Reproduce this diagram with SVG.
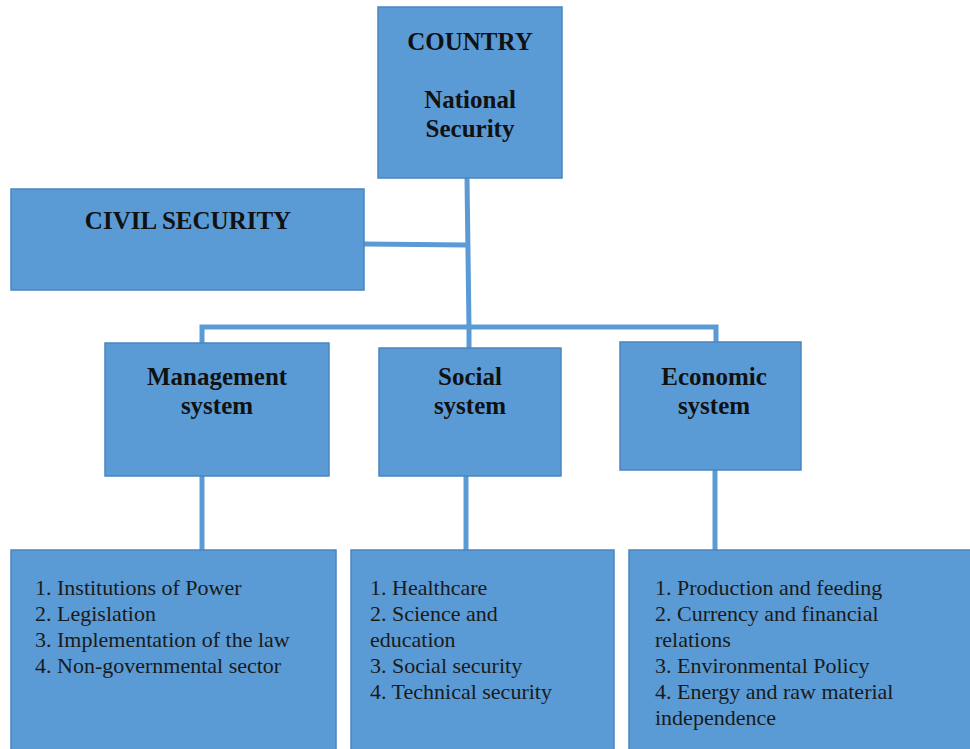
<svg xmlns="http://www.w3.org/2000/svg" width="970" height="749" viewBox="0 0 970 749">
<style>
.box{fill:#5b9bd5;stroke:#4a86bf;stroke-width:1.5}
.conn{stroke:#5b9bd5;stroke-width:5;fill:none}
.t{font-family:"Liberation Serif","Times New Roman",serif;font-weight:bold;font-size:25px;fill:#111;text-anchor:middle}
.l{font-family:"Liberation Serif","Times New Roman",serif;font-size:22px;fill:#1a1a1a}
</style>
<rect width="970" height="749" fill="#fff"/>
<g id="connectors">
<polyline class="conn" points="467,178 469,327"/>
<line class="conn" x1="364" y1="244" x2="468" y2="245"/>
<polyline class="conn" points="202,344 202,327 716,327 716,342"/>
<line class="conn" x1="469" y1="327" x2="469" y2="348"/>
<line class="conn" x1="202" y1="476" x2="202" y2="550"/>
<line class="conn" x1="466" y1="476" x2="466" y2="550"/>
<line class="conn" x1="715" y1="470" x2="715" y2="550"/>
</g>
<g id="country">
<rect class="box" x="378" y="7" width="184" height="171"/>
<text class="t" x="470" y="50">COUNTRY</text>
<text class="t" x="470" y="108">National</text>
<text class="t" x="470" y="137">Security</text>
</g>
<g id="civil">
<rect class="box" x="11" y="189" width="353" height="101"/>
<text class="t" x="188" y="229">CIVIL SECURITY</text>
</g>
<g id="management">
<rect class="box" x="105" y="343" width="224" height="133"/>
<text class="t" x="217" y="385">Management</text>
<text class="t" x="217" y="414">system</text>
</g>
<g id="social">
<rect class="box" x="379" y="348" width="182" height="128"/>
<text class="t" x="470" y="385">Social</text>
<text class="t" x="470" y="414">system</text>
</g>
<g id="economic">
<rect class="box" x="620" y="342" width="181" height="128"/>
<text class="t" x="714" y="385">Economic</text>
<text class="t" x="714" y="414">system</text>
</g>
<g id="management-list">
<rect class="box" x="11" y="550" width="325" height="210"/>
<text class="l" x="35" y="595">1. Institutions of Power</text>
<text class="l" x="35" y="621">2. Legislation</text>
<text class="l" x="35" y="647">3. Implementation of the law</text>
<text class="l" x="35" y="673">4. Non-governmental sector</text>
</g>
<g id="social-list">
<rect class="box" x="351" y="550" width="263" height="210"/>
<text class="l" x="370" y="595">1. Healthcare</text>
<text class="l" x="370" y="621">2. Science and</text>
<text class="l" x="370" y="647">education</text>
<text class="l" x="370" y="673">3. Social security</text>
<text class="l" x="370" y="699">4. Technical security</text>
</g>
<g id="economic-list">
<rect class="box" x="629" y="550" width="350" height="210"/>
<text class="l" x="655" y="595">1. Production and feeding</text>
<text class="l" x="655" y="621">2. Currency and financial</text>
<text class="l" x="655" y="647">relations</text>
<text class="l" x="655" y="673">3. Environmental Policy</text>
<text class="l" x="655" y="699">4. Energy and raw material</text>
<text class="l" x="655" y="725">independence</text>
</g>
</svg>
